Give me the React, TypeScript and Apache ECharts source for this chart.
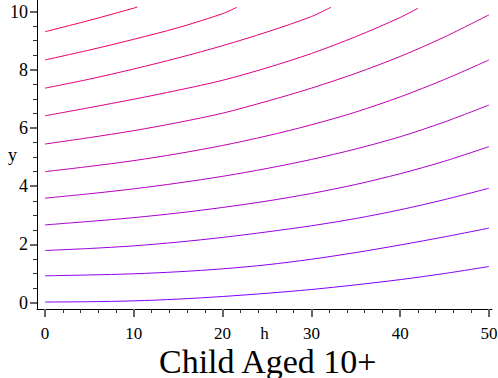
import { useEffect, useRef } from "react";
import * as echarts from "echarts";

// Tick values
const hMajorTicks = [0, 10, 20, 30, 40, 50];
const hMinorTicks = [0, 2, 4, 6, 8, 10, 12, 14, 16, 18, 20, 22, 24, 26, 28, 30, 32, 34, 36, 38, 40, 42, 44, 46, 48, 50];
const yMajorTicks = [0, 2, 4, 6, 8, 10];
const yMinorTicks = [0, 0.5, 1, 1.5, 2, 2.5, 3, 3.5, 4, 4.5, 5, 5.5, 6, 6.5, 7, 7.5, 8, 8.5, 9, 9.5, 10];

// h samples
const hFull = [0, 5, 10, 15, 20, 25, 30, 35, 40, 45, 50];
const h7 = [0, 5, 10, 15, 20, 25, 30, 35, 40, 42];
const h8 = [0, 5, 10, 15, 20, 25, 30, 32.2];
const h9 = [0, 5, 10, 15, 20, 21.6];
const h10 = [0, 5, 10, 10.4];

// y values (bottom curve to top curve)
const curve0 = [0.02, 0.03, 0.06, 0.12, 0.21, 0.32, 0.45, 0.61, 0.79, 1.0, 1.24];
const curve1 = [0.92, 0.95, 0.99, 1.06, 1.16, 1.3, 1.49, 1.72, 1.98, 2.26, 2.56];
const curve2 = [1.79, 1.86, 1.95, 2.08, 2.24, 2.43, 2.64, 2.89, 3.19, 3.54, 3.93];
const curve3 = [2.67, 2.79, 2.92, 3.08, 3.27, 3.49, 3.75, 4.06, 4.43, 4.86, 5.36];
const curve4 = [3.59, 3.74, 3.91, 4.11, 4.34, 4.61, 4.92, 5.28, 5.7, 6.21, 6.79];
const curve5 = [4.5, 4.68, 4.88, 5.12, 5.4, 5.73, 6.11, 6.55, 7.07, 7.67, 8.34];
const curve6 = [5.45, 5.67, 5.91, 6.19, 6.51, 6.92, 7.37, 7.88, 8.46, 9.13, 9.89];
const curve7 = [6.42, 6.7, 6.99, 7.3, 7.64, 8.07, 8.56, 9.14, 9.8, 10.12];
const curve8 = [7.37, 7.68, 8.03, 8.41, 8.83, 9.3, 9.83, 10.15];
const curve9 = [8.34, 8.68, 9.05, 9.45, 9.93, 10.15];
const curve10 = [9.31, 9.7, 10.12, 10.16];

const curveColors = [
  "#7f00ff", "#8c00f0", "#9900e0", "#a600cf", "#b300bf", "#bf00ae",
  "#cc009a", "#d80088", "#e30076", "#ec0064", "#f40050",
];

const curves: { h: number[]; y: number[] }[] = [
  { h: hFull, y: curve0 },
  { h: hFull, y: curve1 },
  { h: hFull, y: curve2 },
  { h: hFull, y: curve3 },
  { h: hFull, y: curve4 },
  { h: hFull, y: curve5 },
  { h: hFull, y: curve6 },
  { h: h7, y: curve7 },
  { h: h8, y: curve8 },
  { h: h9, y: curve9 },
  { h: h10, y: curve10 },
];

const FONT = "Liberation Serif";

export default function App() {
  const ref = useRef<HTMLDivElement>(null);
  useEffect(() => {
    if (!ref.current) return;
    const chart = echarts.init(ref.current, undefined, { renderer: "svg" });
    const xMin = -0.9;
    const xMax = 50.34;
    const yMin = -0.22;
    const yMax = 10.4;
    chart.setOption({
      animation: false,
      backgroundColor: "#ffffff",
      textStyle: { fontFamily: FONT },
      title: {
        text: "Child Aged 10+",
        left: 154,
        top: 339,
        textStyle: { fontFamily: FONT, fontSize: 34, fontWeight: "normal", color: "#000" },
      },
      grid: { left: 37, top: 0, width: 455, height: 309, containLabel: false, outerBoundsMode: "none" },
      xAxis: [
        {
          type: "value",
          min: xMin,
          max: xMax,
          position: "bottom",
          name: "h",
          nameLocation: "middle",
          nameGap: 16,
          nameMoveOverlap: false,
          nameTextStyle: { fontFamily: FONT, fontSize: 17, color: "#000", verticalAlign: "top" },
          axisLine: { show: true, onZero: false, lineStyle: { color: "#000", width: 1 } },
          axisTick: { show: true, inside: false, length: 4, customValues: hMinorTicks, lineStyle: { color: "#333", width: 1 } },
          axisLabel: { customValues: hMajorTicks, margin: 16, fontFamily: FONT, fontSize: 17, color: "#000" },
          splitLine: { show: false },
        },
        {
          type: "value",
          min: xMin,
          max: xMax,
          position: "bottom",
          axisLine: { show: false, onZero: false },
          axisTick: { show: true, inside: false, length: 8, customValues: hMajorTicks, lineStyle: { color: "#666", width: 2 } },
          axisLabel: { show: false },
          splitLine: { show: false },
        },
      ],
      yAxis: [
        {
          type: "value",
          min: yMin,
          max: yMax,
          position: "left",
          name: "y",
          nameLocation: "middle",
          nameRotate: 0,
          nameGap: 20,
          nameMoveOverlap: false,
          nameTextStyle: { fontFamily: FONT, fontSize: 18, color: "#000", align: "right", padding: [16, 0, 0, 0] },
          axisLine: { show: true, onZero: false, lineStyle: { color: "#000", width: 1 } },
          axisTick: { show: true, inside: false, length: 4, customValues: yMinorTicks, lineStyle: { color: "#333", width: 1 } },
          axisLabel: { customValues: yMajorTicks, margin: 9, fontFamily: FONT, fontSize: 18, color: "#000", padding: [9, 0, 0, 0] },
          splitLine: { show: false },
        },
        {
          type: "value",
          min: yMin,
          max: yMax,
          position: "left",
          axisLine: { show: false, onZero: false },
          axisTick: { show: true, inside: false, length: 7, customValues: yMajorTicks, lineStyle: { color: "#666", width: 2 } },
          axisLabel: { show: false },
          splitLine: { show: false },
        },
      ],
      series: curves.map((c, i) => ({
        type: "line",
        xAxisIndex: 0,
        yAxisIndex: 0,
        data: c.h.map((h, j) => [h, c.y[j]]),
        smooth: 0.3,
        symbol: "none",
        lineStyle: { color: curveColors[i], width: 1 },
        silent: true,
      })),
    });
    return () => chart.dispose();
  }, []);
  return <div ref={ref} style={{ position: "fixed", left: 0, top: 0, width: 498, height: 378 }} />;
}
